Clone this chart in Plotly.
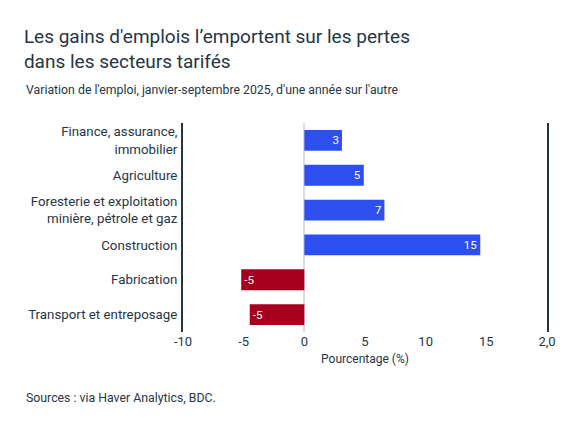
import plotly.graph_objects as go

# Variation de l'emploi par secteur, janv.-sept. 2025 (a/a, %)
sectors = [
    "Finance, assurance,<br>immobilier",
    "Agriculture",
    "Foresterie et exploitation<br>minière, pétrole et gaz",
    "Construction",
    "Fabrication",
    "Transport et entreposage",
]
values = [3.1, 4.9, 6.6, 14.5, -5.2, -4.5]
value_labels = ["3", "5", "7", "15", "-5", "-5"]

tick_vals = [-10, -5, 0, 5, 10, 15, 20]
tick_text = ["-10", "-5", "0", "5", "10", "15", "2,0"]

BLUE = "#2d4ff0"
RED = "#a6001f"
INK = "#263545"
FONT = "Roboto"

colors = [BLUE if v >= 0 else RED for v in values]

fig = go.Figure(go.Bar(
    x=values,
    y=sectors,
    orientation="h",
    marker=dict(color=colors, line=dict(width=0)),
    text=value_labels,
    textposition="inside",
    insidetextanchor="end",
    textfont=dict(color="white", size=11.5, family=FONT),
    hoverinfo="skip",
))

# page body adds an 8 px offset, so the figure is a bit smaller than the window
fig.update_layout(
    width=567,
    height=424,
    margin=dict(l=175, r=28, t=115, b=100),
    paper_bgcolor="white",
    plot_bgcolor="white",
    font=dict(family=FONT, color=INK),
    bargap=0.4,
    showlegend=False,
    title=dict(
        text="Les gains d'emplois l’emportent sur les pertes<br>dans les secteurs tarifés",
        x=0.028, xanchor="left",
        y=0.9175, yanchor="top",
        font=dict(size=19, color=INK, family=FONT),
    ),
    annotations=[
        dict(
            text="Variation de l'emploi, janvier-septembre 2025, d'une année sur l'autre",
            xref="paper", yref="paper", x=-0.437, y=1.158,
            xanchor="left", yanchor="middle", showarrow=False,
            font=dict(size=12.3, color=INK, family=FONT),
        ),
        dict(
            text="Sources : via Haver Analytics, BDC.",
            xref="paper", yref="paper", x=-0.437, y=-0.316,
            xanchor="left", yanchor="middle", showarrow=False,
            font=dict(size=12.3, color=INK, family=FONT),
        ),
    ],
)

fig.update_xaxes(
    range=[-10, 20],
    tickvals=tick_vals,
    ticktext=tick_text,
    showgrid=False,
    zeroline=True,
    zerolinecolor="#dcdcdc",
    zerolinewidth=2,
    showline=False,
    ticks="",
    automargin=False,
    tickfont=dict(size=13, color=INK),
    title=dict(text="Pourcentage (%)", font=dict(size=12, color=INK), standoff=6),
)

fig.update_yaxes(
    autorange="reversed",
    showgrid=False,
    showline=True,
    mirror=True,
    linecolor=INK,
    linewidth=2,
    ticks="",
    ticklabelstandoff=1,
    automargin=False,
    tickfont=dict(size=13.3, color=INK),
)

fig.write_html("out.html")
